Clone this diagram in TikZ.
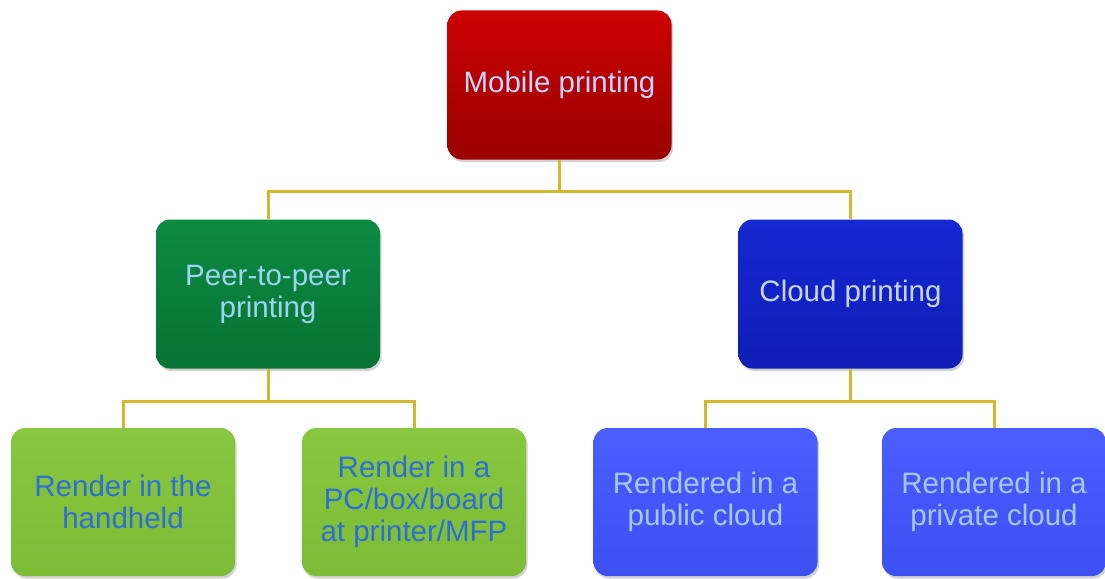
\documentclass[tikz,border=0pt]{standalone}
\usepackage{fontspec}
\setmainfont{Liberation Sans}
\usetikzlibrary{shadows}
\definecolor{linegold}{HTML}{D4B82E}
\definecolor{redtop}{HTML}{CC0202}
\definecolor{redbot}{HTML}{990000}
\definecolor{dgtop}{HTML}{0C8A42}
\definecolor{dgbot}{HTML}{077334}
\definecolor{dbtop}{HTML}{1528D2}
\definecolor{dbbot}{HTML}{0F1EB6}
\definecolor{lgtop}{HTML}{88C840}
\definecolor{lgbot}{HTML}{7CBC36}
\definecolor{lbtop}{HTML}{4A5DFF}
\definecolor{lbbot}{HTML}{3D50F2}
\definecolor{txtlav}{HTML}{C8D6FF}
\definecolor{txtcyan}{HTML}{9CD4F2}
\definecolor{txtblue}{HTML}{2C6ED6}
\definecolor{txtpale}{HTML}{A6C8FF}
\tikzset{
  box/.style={rounded corners=14pt, minimum width=224pt, minimum height=149pt,
    align=center, inner sep=0pt,
    font=\fontsize{29.5}{32}\selectfont,
    drop shadow={opacity=0.35, shadow xshift=1.5pt, shadow yshift=-2.5pt}},
  redbox/.style={box, top color=redtop, bottom color=redbot, text=txtlav},
  dgreenbox/.style={box, top color=dgtop, bottom color=dgbot, text=txtcyan},
  dbluebox/.style={box, top color=dbtop, bottom color=dbbot, text=txtlav},
  lgreenbox/.style={box, top color=lgtop, bottom color=lgbot, text=txtblue, minimum height=148pt},
  lbluebox/.style={box, top color=lbtop, bottom color=lbbot, text=txtpale, minimum height=148pt},
  conn/.style={draw=linegold, line width=3pt}
}
\begin{document}
\begin{tikzpicture}[x=1pt,y=1pt]
\useasboundingbox (0,0) rectangle (1105,-578);
\fill[white] (0,0) rectangle (1105,-578);
% nodes
\node[redbox]    (top)   at (559.5,-85)  {Mobile printing};
\node[dgreenbox] (peer)  at (268,-294)   {Peer-to-peer\\printing};
\node[dbluebox]  (cloud) at (850.5,-294) {Cloud printing};
\node[lgreenbox] (g1)    at (123,-502)   {Render in the\\handheld};
\node[lgreenbox] (g2)    at (414,-502)   {Render in a\\PC/box/board\\at printer/MFP};
\node[lbluebox]  (b1)    at (705.5,-502) {Rendered in a\\public cloud};
\node[lbluebox]  (b2)    at (994,-502)   {Rendered in a\\private cloud};
% junctions
\coordinate (j0) at (559.5,-191);
\coordinate (j1) at (268,-401);
\coordinate (j2) at (850.5,-401);
% connectors
\draw[conn] (top.south) -- (j0) -| (peer.north);
\draw[conn] (j0) -| (cloud.north);
\draw[conn] (peer.south) -- (j1) -| (g1.north);
\draw[conn] (j1) -| (g2.north);
\draw[conn] (cloud.south) -- (j2) -| (b1.north);
\draw[conn] (j2) -| (b2.north);
\end{tikzpicture}
\end{document}
